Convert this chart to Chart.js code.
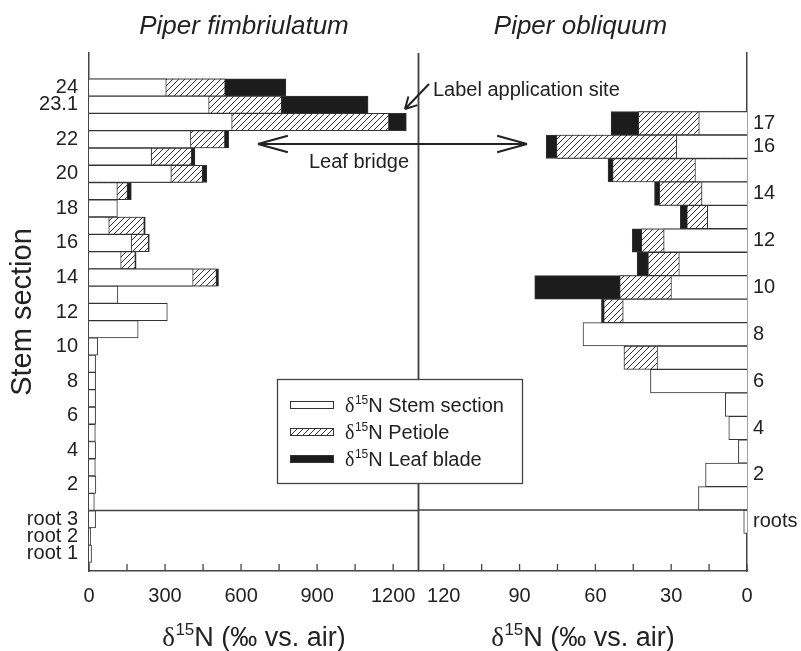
<!DOCTYPE html>
<html>
<head>
<meta charset="utf-8">
<script src="https://cdn.jsdelivr.net/npm/chart.js@4.4.1/dist/chart.umd.min.js"></script>
<style>
  html, body { margin: 0; padding: 0; background: #fff; }
  #wrap { position: relative; width: 801px; height: 651px; background: #fff; }
  #wrap canvas { position: absolute; left: 0; top: 0; }
</style>
</head>
<body>
<div id="wrap">
  <canvas id="left-chart" width="801" height="651"></canvas>
  <canvas id="right-chart" width="801" height="651"></canvas>
</div>
<script>
// d15N along the stem of two Piper species (rows listed top to bottom)

const FONT = "'Liberation Sans', Arial, sans-serif";
const INK = '#222';
const LINE = '#444';

const seriesNames = ['Stem section', 'Petiole', 'Leaf blade'];

// Piper fimbriulatum: stem 24, 23.1, 23 ... 1, then root 3, root 2, root 1
const leftLabels  = ['24', '23.1', '', '22', '', '20', '', '18', '', '16', '', '14', '', '12', '', '10', '', '8', '', '6', '', '4', '', '2', '', 'root 3', 'root 2', 'root 1'];
const leftStem    = [305, 474, 565, 402, 247, 325, 112, 112, 80, 168, 127, 411, 114, 309, 194, 34, 26, 26, 26, 26, 25, 26, 25, 27, 21, 26, 7, 10];
const leftPetiole = [537, 760, 1183, 536, 405, 448, 152, null, 218, 235, 183, 503, null, null, null, null, null, null, null, null, null, null, null, null, null, null, null, null];
const leftLeaf    = [777, 1101, 1252, 551, 418, 465, 167, null, 222, 238, 186, 511, null, null, null, null, null, null, null, null, null, null, null, null, null, null, null, null];
const leftTicks   = [0, 150, 300, 450, 600, 750, 900, 1050, 1200];

// Piper obliquum: stem 17 ... 1, then roots
const rightLabels  = ['17', '16', '', '14', '', '12', '', '10', '', '8', '', '6', '', '4', '', '2', '', 'roots'];
const rightStem    = [19.1, 28, 20.6, 18, 15.7, 33, 27, 30.1, 49.2, 64.9, 35.6, 38.2, 8.6, 7.2, 3.4, 16.4, 19.2, 1.3];
const rightPetiole = [43, 75.4, 53.2, 34.7, 23.8, 41.8, 39.2, 50.4, 56.7, null, 48.7, null, null, null, null, null, null, null];
const rightLeaf    = [53.8, 79.5, 55, 36.6, 26.4, 45.4, 43.5, 84, 57.6, null, null, null, null, null, null, null, null, null];
const rightTicks   = [0, 15, 30, 45, 60, 75, 90, 105, 120];

Chart.defaults.font.family = FONT;
Chart.defaults.color = INK;

// ----- helpers -----
function makeHatch(ctx) {
  const c = document.createElement('canvas');
  c.width = 6; c.height = 6;
  const g = c.getContext('2d');
  g.fillStyle = '#fff';
  g.fillRect(0, 0, 6, 6);
  g.strokeStyle = '#333';
  g.lineWidth = 1;
  g.beginPath();
  g.moveTo(0, 6); g.lineTo(6, 0);
  g.moveTo(-1, 1); g.lineTo(1, -1);
  g.moveTo(5, 7); g.lineTo(7, 5);
  g.stroke();
  return ctx.createPattern(c, 'repeat');
}

function rows(values) {
  return values.map((v, i) => (v == null ? null : { x: v, y: i })).filter(Boolean);
}

function makeDatasets(stem, petiole, leaf, hatch) {
  const common = {
    grouped: false, barPercentage: 1, categoryPercentage: 1,
    borderWidth: 1, borderColor: '#333', borderSkipped: 'start'
  };
  // first dataset is painted last, so the shortest bar ends up on top
  return [
    { label: seriesNames[0], data: rows(stem), backgroundColor: '#fff', ...common },
    { label: seriesNames[1], data: rows(petiole), backgroundColor: hatch, ...common },
    { label: seriesNames[2], data: rows(leaf), backgroundColor: '#1c1c1c', ...common }
  ];
}

function drawDelta(ctx, x, y, size, rest, align) {
  const serif = `${size}px 'Liberation Serif', 'Times New Roman', serif`;
  const sup = `${Math.round(size * 0.62)}px ${FONT}`;
  const main = `${size}px ${FONT}`;
  ctx.font = serif; const w1 = ctx.measureText('δ').width;
  ctx.font = sup;   const w2 = ctx.measureText('15').width;
  ctx.font = main;  const w3 = ctx.measureText('N' + rest).width;
  const sx = align === 'center' ? x - (w1 + w2 + w3) / 2 : x;
  ctx.textAlign = 'left';
  ctx.textBaseline = 'alphabetic';
  ctx.fillStyle = INK;
  ctx.font = serif; ctx.fillText('δ', sx, y);
  ctx.font = sup;   ctx.fillText('15', sx + w1 + 0.5, y - size * 0.4);
  ctx.font = main;  ctx.fillText('N' + rest, sx + w1 + w2 + 0.5, y);
}

function line(ctx, x1, y1, x2, y2) {
  ctx.beginPath(); ctx.moveTo(x1, y1); ctx.lineTo(x2, y2); ctx.stroke();
}

function arrowHead(ctx, tipX, tipY, fromX, fromY, len, spread) {
  const a = Math.atan2(fromY - tipY, fromX - tipX);
  line(ctx, tipX, tipY, tipX + len * Math.cos(a + spread), tipY + len * Math.sin(a + spread));
  line(ctx, tipX, tipY, tipX + len * Math.cos(a - spread), tipY + len * Math.sin(a - spread));
}

// frame: inward x ticks, root separator, middle divider, species title, x title
const framePlugin = {
  id: 'frame',
  afterDraw(chart, args, opts) {
    const { ctx, chartArea: area, scales: { x, y } } = chart;
    ctx.save();
    ctx.strokeStyle = LINE;
    ctx.lineWidth = 1.3;
    x.ticks.forEach(t => {
      const px = x.getPixelForValue(t.value);
      line(ctx, px, area.bottom, px, area.bottom - 7);
    });
    ctx.lineWidth = 1.5;
    const sy = y.getPixelForValue(opts.separator);
    line(ctx, area.left, sy, area.right, sy);
    const dx = opts.side === 'left' ? area.right : area.left;
    line(ctx, dx, area.top, dx, area.bottom);

    ctx.fillStyle = INK;
    ctx.font = `italic 26px ${FONT}`;
    ctx.textAlign = 'center';
    ctx.textBaseline = 'alphabetic';
    ctx.fillText(opts.title, opts.titleX, 34);
    drawDelta(ctx, (area.left + area.right) / 2, 646, 27, ' (‰ vs. air)', 'center');
    ctx.restore();
  }
};

// legend and annotations, drawn on the top canvas so they cross both panels
const overlayPlugin = {
  id: 'overlay',
  afterDraw(chart) {
    const { ctx } = chart;
    ctx.save();
    // legend box
    ctx.fillStyle = '#fff';
    ctx.fillRect(277.5, 379.5, 245, 104);
    ctx.strokeStyle = LINE;
    ctx.lineWidth = 1.3;
    ctx.strokeRect(277.5, 379.5, 245, 104);
    chart.data.datasets.forEach((ds, i) => {
      const cy = 405 + i * 27;
      ctx.fillStyle = ds.backgroundColor;
      ctx.fillRect(290, cy - 4, 44, 8);
      ctx.strokeStyle = '#333';
      ctx.lineWidth = 1;
      ctx.strokeRect(290.5, cy - 3.5, 43, 7);
      drawDelta(ctx, 345, cy + 7, 20, ' ' + ds.label, 'left');
    });

    // annotations
    ctx.strokeStyle = INK;
    ctx.fillStyle = INK;
    ctx.lineWidth = 2;
    ctx.font = `20px ${FONT}`;
    ctx.textAlign = 'left';
    ctx.textBaseline = 'middle';
    ctx.fillText('Label application site', 433, 90);
    line(ctx, 429, 84, 405, 109);
    arrowHead(ctx, 405, 109, 429, 84, 13, 0.5);

    ctx.fillText('Leaf bridge', 309, 162);
    line(ctx, 258, 144, 527, 144);
    arrowHead(ctx, 258, 144, 527, 144, 31, 0.27);
    arrowHead(ctx, 527, 144, 258, 144, 31, 0.27);
    ctx.restore();
  }
};

function buildPanel(canvasId, cfg) {
  const canvas = document.getElementById(canvasId);
  const hatch = makeHatch(canvas.getContext('2d'));
  return new Chart(canvas, {
    type: 'bar',
    data: { datasets: makeDatasets(cfg.stem, cfg.petiole, cfg.leaf, hatch) },
    options: {
      responsive: false,
      animation: false,
      indexAxis: 'y',
      events: [],
      layout: { padding: cfg.padding },
      plugins: {
        legend: { display: false },
        tooltip: { enabled: false },
        frame: { separator: cfg.separator, side: cfg.side, title: cfg.title, titleX: cfg.titleX }
      },
      scales: {
        x: {
          type: 'linear', min: 0, max: cfg.xMax, reverse: cfg.side === 'right',
          afterBuildTicks: s => { s.ticks = cfg.xTicks.map(v => ({ value: v })); },
          afterFit: s => { s.height = 80; },
          grid: { display: false, drawTicks: false },
          border: { color: LINE, width: 1.5 },
          ticks: {
            font: { size: 20 }, color: INK, padding: 13, maxRotation: 0, autoSkip: false,
            callback: v => (v % cfg.labelStep === 0 ? String(v) : '')
          }
        },
        y: {
          type: 'linear', min: cfg.yMin, max: cfg.yMax, reverse: true, offset: false,
          position: cfg.side,
          afterBuildTicks: s => {
            s.ticks = cfg.labels.map((l, i) => (l ? { value: i } : null)).filter(Boolean);
          },
          afterFit: s => { s.width = cfg.yWidth; },
          grid: { display: false, drawTicks: false },
          border: { color: LINE, width: 1.5 },
          ticks: {
            font: { size: 20 }, color: INK, padding: cfg.side === 'left' ? 11 : 6, autoSkip: false,
            callback: v => cfg.labels[v]
          },
          title: cfg.yTitle
        }
      }
    },
    plugins: cfg.extra ? [framePlugin, cfg.extra] : [framePlugin]
  });
}

buildPanel('left-chart', {
  side: 'left',
  title: 'Piper fimbriulatum', titleX: 244,
  stem: leftStem, petiole: leftPetiole, leaf: leftLeaf, labels: leftLabels,
  xMax: 1300, xTicks: leftTicks, labelStep: 300,
  yMin: -2, yMax: 28, separator: 24.5, yWidth: 89,
  padding: { left: 0, top: 53, right: 382.5, bottom: 0 },
  yTitle: { display: true, text: 'Stem section', font: { size: 29 }, color: INK, padding: { top: 6, bottom: 0 } }
});

buildPanel('right-chart', {
  side: 'right',
  title: 'Piper obliquum', titleX: 580.5,
  stem: rightStem, petiole: rightPetiole, leaf: rightLeaf, labels: rightLabels,
  xMax: 130, xTicks: rightTicks, labelStep: 30,
  yMin: -3, yMax: 19.1, separator: 16.5, yWidth: 54,
  padding: { left: 418.5, top: 53, right: 0, bottom: 0 },
  yTitle: { display: false },
  extra: overlayPlugin
});
</script>
</body>
</html>
